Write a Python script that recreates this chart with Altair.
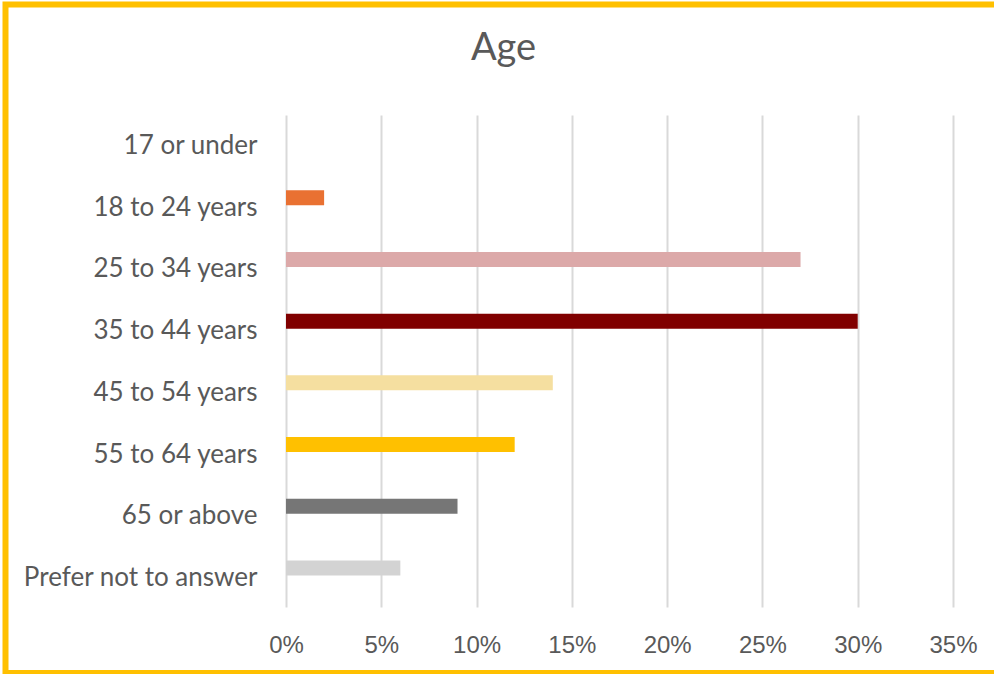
import altair as alt
import pandas as pd

# Survey respondents by age band (share of all responses)
age_groups = [
    "17 or under",
    "18 to 24 years",
    "25 to 34 years",
    "35 to 44 years",
    "45 to 54 years",
    "55 to 64 years",
    "65 or above",
    "Prefer not to answer",
]
shares = [0.00, 0.02, 0.27, 0.30, 0.14, 0.12, 0.09, 0.06]
bar_colors = ["#E97132", "#E97132", "#DCA9A9", "#800000", "#F5DFA0", "#FFC000", "#767676", "#D3D3D3"]
tick_values = [0.0, 0.05, 0.10, 0.15, 0.20, 0.25, 0.30, 0.35]

df = pd.DataFrame({"age": age_groups, "share": shares})

text_grey = "#595959"

bars = alt.Chart(df).mark_bar().encode(
    y=alt.Y(
        "age:N",
        sort=age_groups,
        scale=alt.Scale(paddingInner=0.757, paddingOuter=0.365, align=0.3),
        axis=alt.Axis(
            title=None,
            labelFont="Lato",
            labelFontSize=26,
            labelColor=text_grey,
            labelPadding=29,
            labelOffset=10,
            labelLimit=400,
            ticks=False,
            tickSize=0,
            domain=False,
            grid=False,
        ),
    ),
    x=alt.X(
        "share:Q",
        scale=alt.Scale(domain=[0, 0.35], nice=False),
        axis=alt.Axis(
            title=None,
            format=".0%",
            values=tick_values,
            labelFont="Liberation Sans",
            labelFontSize=24,
            labelColor=text_grey,
            labelPadding=26,
            labelFlush=False,
            labelOverlap=False,
            ticks=False,
            tickSize=0,
            domain=False,
            grid=True,
            gridColor="#D9D9D9",
            gridWidth=2,
        ),
    ),
    color=alt.Color(
        "age:N",
        scale=alt.Scale(domain=age_groups, range=bar_colors),
        legend=None,
    ),
)

# Gold frame around the whole figure
frame = alt.Chart(pd.DataFrame({"k": [0]})).mark_rect(
    fill="transparent", stroke="#FFC000", strokeWidth=6
).encode(
    x=alt.value(-280.5),
    x2=alt.value(716),
    y=alt.value(-110.5),
    y2=alt.value(558),
)

chart = alt.layer(bars, frame).properties(
    width=667,
    height=492,
    title=alt.Title(
        "Age",
        font="Lato",
        fontSize=38,
        fontWeight="normal",
        color=text_grey,
        anchor="middle",
        frame="group",
        dx=-116,
        offset=-66,
    ),
    background="white",
    autosize=alt.AutoSizeParams(type="none"),
    padding={"left": 286, "top": 115, "right": 41, "bottom": 67},
).configure_view(stroke=None)

chart.save("out.html", embed_options={"renderer": "svg", "actions": False})
